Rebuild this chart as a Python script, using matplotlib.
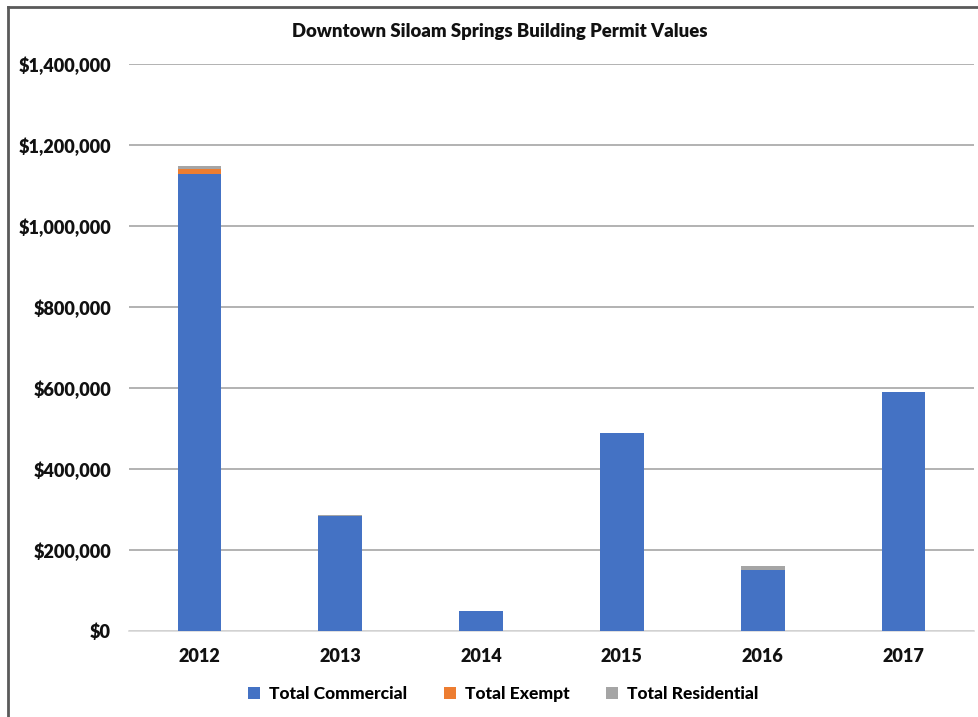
import matplotlib
matplotlib.use("Agg")
import matplotlib.pyplot as plt
from matplotlib.lines import Line2D
from matplotlib.patches import Patch
from matplotlib.ticker import FuncFormatter
import numpy as np

years = ["2012", "2013", "2014", "2015", "2016", "2017"]
commercial = [1128000, 284000, 50000, 490000, 150000, 590000]
exempt = [12000, 0, 0, 0, 0, 0]
residential = [7000, 3000, 0, 0, 10000, 0]

series_names = ["Total Commercial", "Total Exempt", "Total Residential"]
colors = ["#4472C4", "#ED7D31", "#A5A5A5"]

WEIGHT = "heavy"
plt.rcParams["font.family"] = ["Lato", "DejaVu Sans"]
plt.rcParams["font.weight"] = WEIGHT

W, H = 979, 717
fig = plt.figure(figsize=(W / 100, H / 100), dpi=100)
ax = fig.add_axes([129 / W, (H - 631) / H, 845 / W, 567 / H])

x = np.arange(len(years))
bw = 0.31
bottom = np.zeros(len(years))
for vals, col, name in zip([commercial, exempt, residential], colors, series_names):
    v = np.array(vals, dtype=float)
    ax.bar(x, v, bw, bottom=bottom, color=col, label=name, zorder=3)
    bottom += v

ax.set_xlim(-0.5, len(years) - 0.5)
ax.set_ylim(0, 1400000)
ax.set_yticks(np.arange(0, 1400001, 200000))
ax.yaxis.set_major_formatter(FuncFormatter(lambda v, p: f"${v:,.0f}"))
ax.set_xticks(x)
ax.set_xticklabels(years)
ax.tick_params(axis="both", length=0, labelsize=13, colors="#111111")
ax.tick_params(axis="y", pad=13)
ax.tick_params(axis="x", pad=12)
for lab in ax.get_xticklabels() + ax.get_yticklabels():
    lab.set_fontweight(WEIGHT)

ax.grid(axis="y", color="#a6a6a6", linewidth=1.2, zorder=0)
for s in ["top", "right", "left"]:
    ax.spines[s].set_visible(False)
ax.spines["bottom"].set_color("#d9d9d9")
ax.spines["bottom"].set_linewidth(1.2)

fig.text(500 / W, 1 - 32 / H, "Downtown Siloam Springs Building Permit Values",
         ha="center", va="center", fontsize=13.3, fontweight=WEIGHT, color="#111111")

handles = [Patch(facecolor=c, edgecolor="none") for c in colors]
fig.legend(handles, series_names, loc="center", bbox_to_anchor=(503 / W, 1 - 694 / H),
           ncol=3, frameon=False, handlelength=0.7, handleheight=0.7,
           handletextpad=0.5, columnspacing=2.1, prop={"weight": "black", "size": 12.6})

# outer frame lines along the top and left edges
fig.add_artist(Line2D([8 / W, 1], [1 - 7 / H, 1 - 7 / H], color="#5a5a5a", linewidth=2,
                      transform=fig.transFigure))
fig.add_artist(Line2D([8 / W, 8 / W], [0, 1 - 7 / H], color="#5a5a5a", linewidth=2,
                      transform=fig.transFigure))

fig.savefig("out.png", dpi=100)
